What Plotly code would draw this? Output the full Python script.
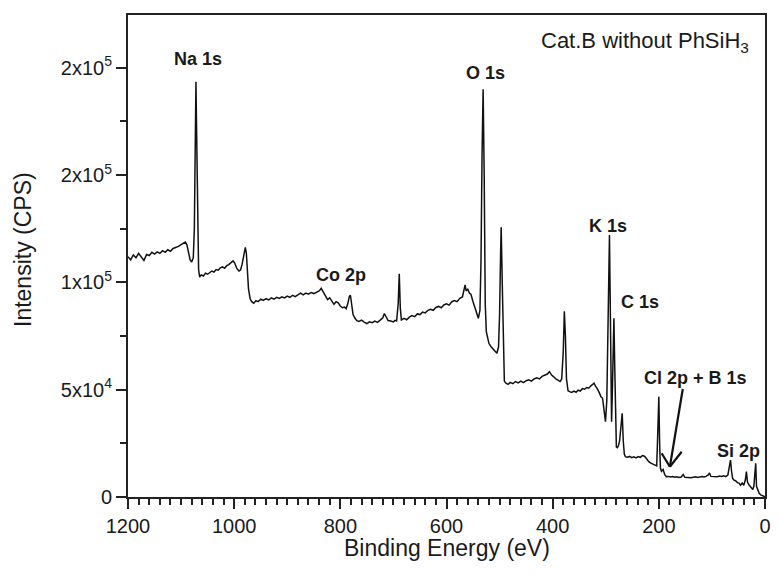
import plotly.graph_objects as go

# XPS survey spectrum, Cat.B without PhSiH3
be_ev = [
    1200, 1195, 1190, 1185, 1180, 1175, 1170, 1165, 1160, 1155,
    1150, 1145, 1140, 1135, 1130, 1125, 1120, 1115, 1110, 1105,
    1100, 1095, 1092, 1089, 1086, 1083, 1080, 1077, 1075, 1073,
    1072, 1071, 1069, 1067, 1065, 1062, 1058, 1054, 1050, 1046,
    1042, 1038, 1034, 1030, 1026, 1022, 1018, 1014, 1010, 1006,
    1002, 999, 995, 991, 988, 985, 982, 979, 977, 975,
    973, 970, 967, 963, 959, 955, 950, 945, 940, 935,
    930, 925, 920, 915, 910, 905, 900, 895, 890, 885,
    880, 875, 870, 865, 860, 855, 850, 845, 840, 836,
    832, 828, 824, 820, 816, 812, 808, 804, 800, 796,
    792, 789, 786, 783, 781, 779, 776, 773, 769, 765,
    760, 755, 750, 745, 740, 735, 730, 725, 720, 717,
    714, 710, 705, 700, 697, 694, 691, 689, 687, 685,
    680, 675, 670, 665, 660, 655, 650, 645, 640, 635,
    630, 625, 620, 615, 610, 605, 600, 595, 590, 585,
    580, 575, 570, 567, 565, 563, 560, 557, 554, 550,
    546, 542, 540, 537, 535, 533, 531, 529, 527, 525,
    523, 520, 516, 512, 508, 505, 502, 500, 498, 497,
    495, 493, 491, 488, 484, 480, 475, 470, 465, 460,
    455, 450, 445, 440, 435, 430, 425, 420, 415, 410,
    406, 402, 398, 394, 390, 386, 383, 380, 378, 376,
    374, 371, 368, 364, 360, 356, 352, 348, 344, 340,
    336, 332, 328, 324, 322, 319, 316, 312, 309, 306,
    303, 300.5, 298, 296, 294, 293, 292, 290.5, 289, 287.5,
    286, 284.6, 283, 281.5, 280, 278, 276, 274, 271, 269,
    267, 265, 263, 259, 255, 251, 247, 243, 239, 235,
    231, 227, 223, 219, 215, 211, 207, 204, 202, 200,
    198.5, 197, 195, 192, 189, 186, 182, 178, 174, 170,
    166, 162, 158, 154, 151, 147, 143, 139, 135, 131,
    127, 123, 119, 115, 111, 107, 104.5, 102, 98, 94,
    90, 86, 82, 78, 74, 70, 67, 65, 63, 61,
    58, 55, 52, 49, 46, 43, 40, 37, 35, 33,
    30, 27, 25, 23, 21, 19, 17.5, 16, 13, 11,
    8, 5, 2, 0,
]

cps = [
    112000, 110500, 112800, 111500, 113500, 112000, 110200, 113000, 112500, 114000,
    113200, 114200, 113500, 114800, 114000, 115200, 114500, 115800, 116200, 116800,
    117600, 118300, 118800, 117500, 113500, 110500, 109500, 111500, 125000, 170000,
    193500, 175000, 125000, 106000, 102500, 103500, 103000, 104300, 103800, 104800,
    105300, 104800, 106000, 105700, 106800, 107200, 106600, 107800, 108300, 109200,
    110000, 109000, 106500, 105300, 105800, 108500, 113000, 116300, 113500, 105000,
    97000, 92500, 91000, 90300, 91500, 91000, 92200, 91600, 92400, 91800,
    92800, 92200, 93000, 92500, 93300, 92800, 93600, 93000, 94000, 93400,
    94300, 95000, 94200, 95000, 94500, 95300, 94800, 95500, 96000, 97200,
    95500, 93500, 92000, 92800, 91000, 89800, 91000, 90500, 89000, 88200,
    88500, 87800, 90000, 93500, 94000, 89000, 85000, 83500, 82200, 81800,
    82400, 81500, 80800, 81600, 81200, 82000, 81400, 82400, 83500, 85500,
    84000, 82200, 82000, 81600, 82300, 82000, 90000, 104000, 88000, 82500,
    83200, 82600, 83800, 84500, 84000, 85300, 85000, 86200, 85800, 87000,
    87500, 87000, 88300, 88800, 88200, 89500, 90000, 89400, 91000, 91500,
    91000, 92600, 93200, 96000, 98800, 96000, 97000, 95000, 94500, 91000,
    87500, 85000, 83300, 87000, 110000, 160000, 190000, 150000, 90000, 77000,
    74000, 71500, 70000, 68800, 67500, 67000, 70000, 85000, 115000, 125700,
    100000, 65000, 54000, 53000, 52500, 53400, 52800, 53800, 53200, 54000,
    53300, 54200, 54600, 54000, 55000, 55500, 55000, 56200, 56800, 57300,
    58400, 56800, 56000, 55000, 54500, 53800, 55000, 68000, 86500, 75000,
    55000, 49500, 49100, 48700, 49300, 48800, 49800, 49400, 50500, 50200,
    51000, 50700, 51800, 52500, 53000, 51500, 50500, 48500, 46700, 46000,
    41000, 35100, 45000, 80000, 115000, 122100, 100000, 60000, 35100, 50000,
    75000, 83300, 60000, 30000, 23400, 23000, 24000, 26000, 33000, 39000,
    26000, 20000, 18800, 18500, 18900, 18300, 18700, 18200, 18800, 18500,
    19300, 19000, 17800, 16500, 15800, 15400, 14900, 14500, 30000, 46700,
    25000, 13400, 12000, 12800, 10500, 9500, 9600, 9300, 9500, 9200,
    9400, 9100, 9300, 10500, 9200, 9100, 9300, 9000, 9200, 9400,
    9100, 9300, 9500, 9300, 9600, 10300, 11200, 9600, 9500, 9700,
    9400, 9800, 9600, 9900, 9500, 10200, 13500, 17200, 12000, 8700,
    7800, 7500, 6700, 6500, 5500, 6500, 5500, 8000, 11800, 7000,
    5600, 4500, 4000, 3500, 5000, 10000, 15700, 5000, 2500, 1700,
    1000, 600, 200, 100,
]

y_tick_values = [0, 50000, 100000, 150000, 200000]
y_tick_labels = ["0", "5x10<sup>4</sup>", "1x10<sup>5</sup>",
                 "2x10<sup>5</sup>", "2x10<sup>5</sup>"]
x_tick_values = [0, 200, 400, 600, 800, 1000, 1200]

# peak labels: text, binding energy and intensity at the label centre
peak_labels = ["Na 1s", "O 1s", "Co 2p", "K 1s", "C 1s", "Cl 2p + B 1s", "Si 2p"]
peak_label_be = [1069, 526, 799, 295, 235, 130.6, 50.4]
peak_label_cps = [204100, 197600, 103500, 126300, 90900, 55500, 21400]

FONT = "Liberation Sans, Arial, sans-serif"
INK = "#1a1a1a"

fig = go.Figure()
fig.add_trace(go.Scatter(
    x=be_ev, y=cps, mode="lines",
    line=dict(color="#111111", width=1.5),
    showlegend=False, hoverinfo="skip",
))

for txt, bx, by in zip(peak_labels, peak_label_be, peak_label_cps):
    fig.add_annotation(
        x=bx, y=by, xref="x", yref="y", text=f"<b>{txt}</b>", showarrow=False,
        xanchor="center", yanchor="middle",
        font=dict(family=FONT, size=18, color=INK),
    )

# sample name in the upper right corner
fig.add_annotation(
    x=26, y=212000, xref="x", yref="y",
    text="Cat.B without PhSiH<sub>3</sub>", showarrow=False,
    xanchor="right", yanchor="middle",
    font=dict(family=FONT, size=22, color=INK),
)

# arrow pointing at the Cl 2p + B 1s feature (shaft and open V head)
arrow_segments = [
    ((154.9, 50300), (179.2, 14100)),
    ((194.7, 20400), (179.2, 14100)),
    ((157.0, 21100), (179.2, 14100)),
]
for (x0, y0), (x1, y1) in arrow_segments:
    fig.add_shape(type="line", xref="x", yref="y", x0=x0, y0=y0, x1=x1, y1=y1,
                  line=dict(color="#111111", width=2.2))

# axis titles
fig.add_annotation(
    x=0.5, y=0, xref="paper", yref="paper", yshift=-51,
    text="Binding Energy (eV)", showarrow=False,
    xanchor="center", yanchor="middle",
    font=dict(family=FONT, size=23, color=INK),
)
fig.add_annotation(
    x=0, y=(497 - 250) / 482, xref="paper", yref="paper", xshift=-105,
    text="Intensity (CPS)", showarrow=False, textangle=-90,
    xanchor="center", yanchor="middle",
    font=dict(family=FONT, size=23, color=INK),
)

axis_common = dict(
    showline=True, linecolor="#222222", linewidth=2, mirror=True,
    ticks="outside", ticklen=10, tickwidth=1.5, tickcolor="#222222",
    showgrid=False, zeroline=False,
    tickfont=dict(family=FONT, size=20, color=INK),
)

fig.update_xaxes(
    range=[1200, 0], tickmode="array", tickvals=x_tick_values,
    minor=dict(dtick=20, tick0=0, ticks="outside", ticklen=6,
               tickwidth=1.5, tickcolor="#222222"),
    **axis_common,
)
fig.update_yaxes(
    range=[0, 224600], tickmode="array",
    tickvals=y_tick_values, ticktext=y_tick_labels,
    minor=dict(dtick=25000, tick0=0, ticks="outside", ticklen=6,
               tickwidth=1.5, tickcolor="#222222"),
    **axis_common,
)

fig.update_layout(
    width=779, height=579,
    margin=dict(l=128, r=8, t=15, b=82),
    plot_bgcolor="white", paper_bgcolor="white",
    showlegend=False,
)

fig.write_html("out.html")
